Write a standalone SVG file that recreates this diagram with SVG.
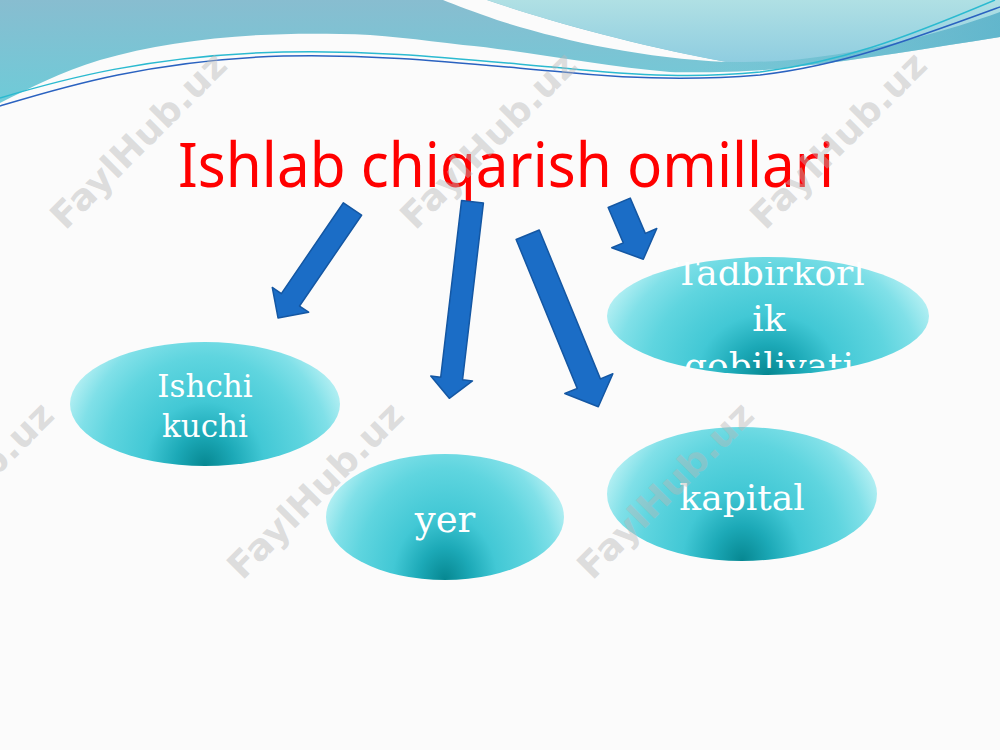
<svg xmlns="http://www.w3.org/2000/svg" width="1000" height="750" viewBox="0 0 1000 750">
<defs>
<linearGradient id="gBlue" x1="0" y1="0" x2="0" y2="1">
<stop offset="0" stop-color="#88bdd0"/>
<stop offset="1" stop-color="#6ecbd8"/>
</linearGradient>
<linearGradient id="gBlueR" x1="0" y1="0" x2="1" y2="0">
<stop offset="0" stop-color="#7cc6d6" stop-opacity="0"/>
<stop offset="0.7" stop-color="#6cbfd2" stop-opacity="0"/>
<stop offset="1" stop-color="#5ab4cb" stop-opacity="0.8"/>
</linearGradient>
<linearGradient id="gLight" x1="0" y1="0" x2="0" y2="1">
<stop offset="0" stop-color="#b0e0e4"/>
<stop offset="1" stop-color="#8fcde0"/>
</linearGradient>
<radialGradient id="gEll" cx="0.5" cy="1" r="1" gradientTransform="translate(0.5,1) scale(0.55,1.3) translate(-0.5,-1)">
<stop offset="0" stop-color="#068791"/>
<stop offset="0.2" stop-color="#1ca9b7"/>
<stop offset="0.4" stop-color="#42c8d5"/>
<stop offset="0.68" stop-color="#5fd5df"/>
<stop offset="0.86" stop-color="#80e0e8"/>
<stop offset="1" stop-color="#b0eef2"/>
</radialGradient>
<clipPath id="clipT"><rect x="600" y="262" width="340" height="106"/></clipPath>
<style>
.ell{fill:url(#gEll);}
.lbl{font-family:"DejaVu Serif",serif;fill:#ffffff;text-anchor:middle;}
.arr{fill:#1b6dc6;stroke:#1457a3;stroke-width:1.5;stroke-linejoin:round;}
.wm{font-family:"DejaVu Sans",sans-serif;font-weight:bold;font-size:36px;fill:#b8b8b8;fill-opacity:0.45;text-anchor:middle;}
</style>
</defs>
<rect width="1000" height="750" fill="#fbfbfb"/>
<g id="header">
<path d="M0,0 H1000 V37 C930,48 860,60 793,67 C760,72 700,73 670,72 C600,66 520,50 463,45 C420,40 380,34 340,34 C250,32 170,40 100,60 C60,72 30,88 0,103 Z" fill="url(#gBlue)"/>
<path d="M0,0 H1000 V37 C930,48 860,60 793,67 C760,72 700,73 670,72 C600,66 520,50 463,45 C420,40 380,34 340,34 C250,32 170,40 100,60 C60,72 30,88 0,103 Z" fill="url(#gBlueR)"/>
<path d="M443,0 L487,0 C540,18 620,42 727,62 C640,58 560,40 497,20 C475,12 455,5 443,0 Z" fill="#fbfbfb"/>
<path d="M487,0 H1000 V12 C950,30 880,50 810,58 C780,62 750,62 727,62 C650,48 560,25 487,0 Z" fill="url(#gLight)"/>
<path d="M0,98 C60,80 150,55 283,52 C380,50 450,58 563,68 C640,76 700,78 760,72 C840,62 900,40 995,0" fill="none" stroke="#2bbad0" stroke-width="1.5"/>
<path d="M0,106 C60,88 150,60 283,56 C380,54 450,62 563,72 C640,80 700,80 760,75 C840,66 910,40 1000,7" fill="none" stroke="#2a62c0" stroke-width="1.5"/>
</g>
<g id="title">
<text x="506" y="187" font-family="'Noto Sans','Open Sans',sans-serif" font-size="62" fill="#ff0000" text-anchor="middle" textLength="656" lengthAdjust="spacingAndGlyphs">Ishlab chiqarish omillari</text>
</g>
<g id="connectors">
<path class="arr" transform="translate(352.5,209) rotate(34.35)" d="M-11,0 L11,0 L11,110 L22,110 L0,132 L-22,110 L-11,110 Z"/>
<path class="arr" transform="translate(472.5,201.7) rotate(6.73)" d="M-11,0 L11,0 L11,178 L21,178 L0,198 L-21,178 L-11,178 Z"/>
<path class="arr" transform="translate(527.7,234.7) rotate(-22.31)" d="M-12.5,0 L12.5,0 L12.5,161 L26,161 L0,186 L-26,161 L-12.5,161 Z"/>
<path class="arr" transform="translate(619.2,202.8) rotate(-23.1)" d="M-12,0 L12,0 L12,38.4 L24.5,38.4 L0,61.4 L-24.5,38.4 L-12,38.4 Z"/>
</g>
<g id="node-ishchi">
<ellipse class="ell" cx="205" cy="404" rx="135" ry="62"/>
<text class="lbl" x="205" y="397" font-size="31">Ishchi</text>
<text class="lbl" x="205" y="437" font-size="31">kuchi</text>
</g>
<g id="node-yer">
<ellipse class="ell" cx="445" cy="517" rx="119" ry="63"/>
<text class="lbl" x="445" y="532" font-size="37">yer</text>
</g>
<g id="node-kapital">
<ellipse class="ell" cx="742" cy="494" rx="135" ry="67"/>
<text class="lbl" x="742" y="510" font-size="36">kapital</text>
</g>
<g id="node-tadbirkorlik">
<ellipse class="ell" cx="768" cy="316" rx="161" ry="59"/>
<g clip-path="url(#clipT)">
<text class="lbl" x="770" y="285" font-size="36">Tadbirkorl</text>
<text class="lbl" x="769" y="331" font-size="36">ik</text>
<text class="lbl" x="769" y="378" font-size="36">qobiliyati</text>
</g>
</g>
<g id="watermarks">
<text class="wm" transform="translate(138,140) rotate(-45)" y="13" textLength="232" lengthAdjust="spacingAndGlyphs">FaylHub.uz</text>
<text class="wm" transform="translate(488,140) rotate(-45)" y="13" textLength="232" lengthAdjust="spacingAndGlyphs">FaylHub.uz</text>
<text class="wm" transform="translate(838,140) rotate(-45)" y="13" textLength="232" lengthAdjust="spacingAndGlyphs">FaylHub.uz</text>
<text class="wm" transform="translate(-35,490) rotate(-45)" y="13" textLength="232" lengthAdjust="spacingAndGlyphs">FaylHub.uz</text>
<text class="wm" transform="translate(315,490) rotate(-45)" y="13" textLength="232" lengthAdjust="spacingAndGlyphs">FaylHub.uz</text>
<text class="wm" transform="translate(665,490) rotate(-45)" y="13" textLength="232" lengthAdjust="spacingAndGlyphs">FaylHub.uz</text>
</g>
</svg>
